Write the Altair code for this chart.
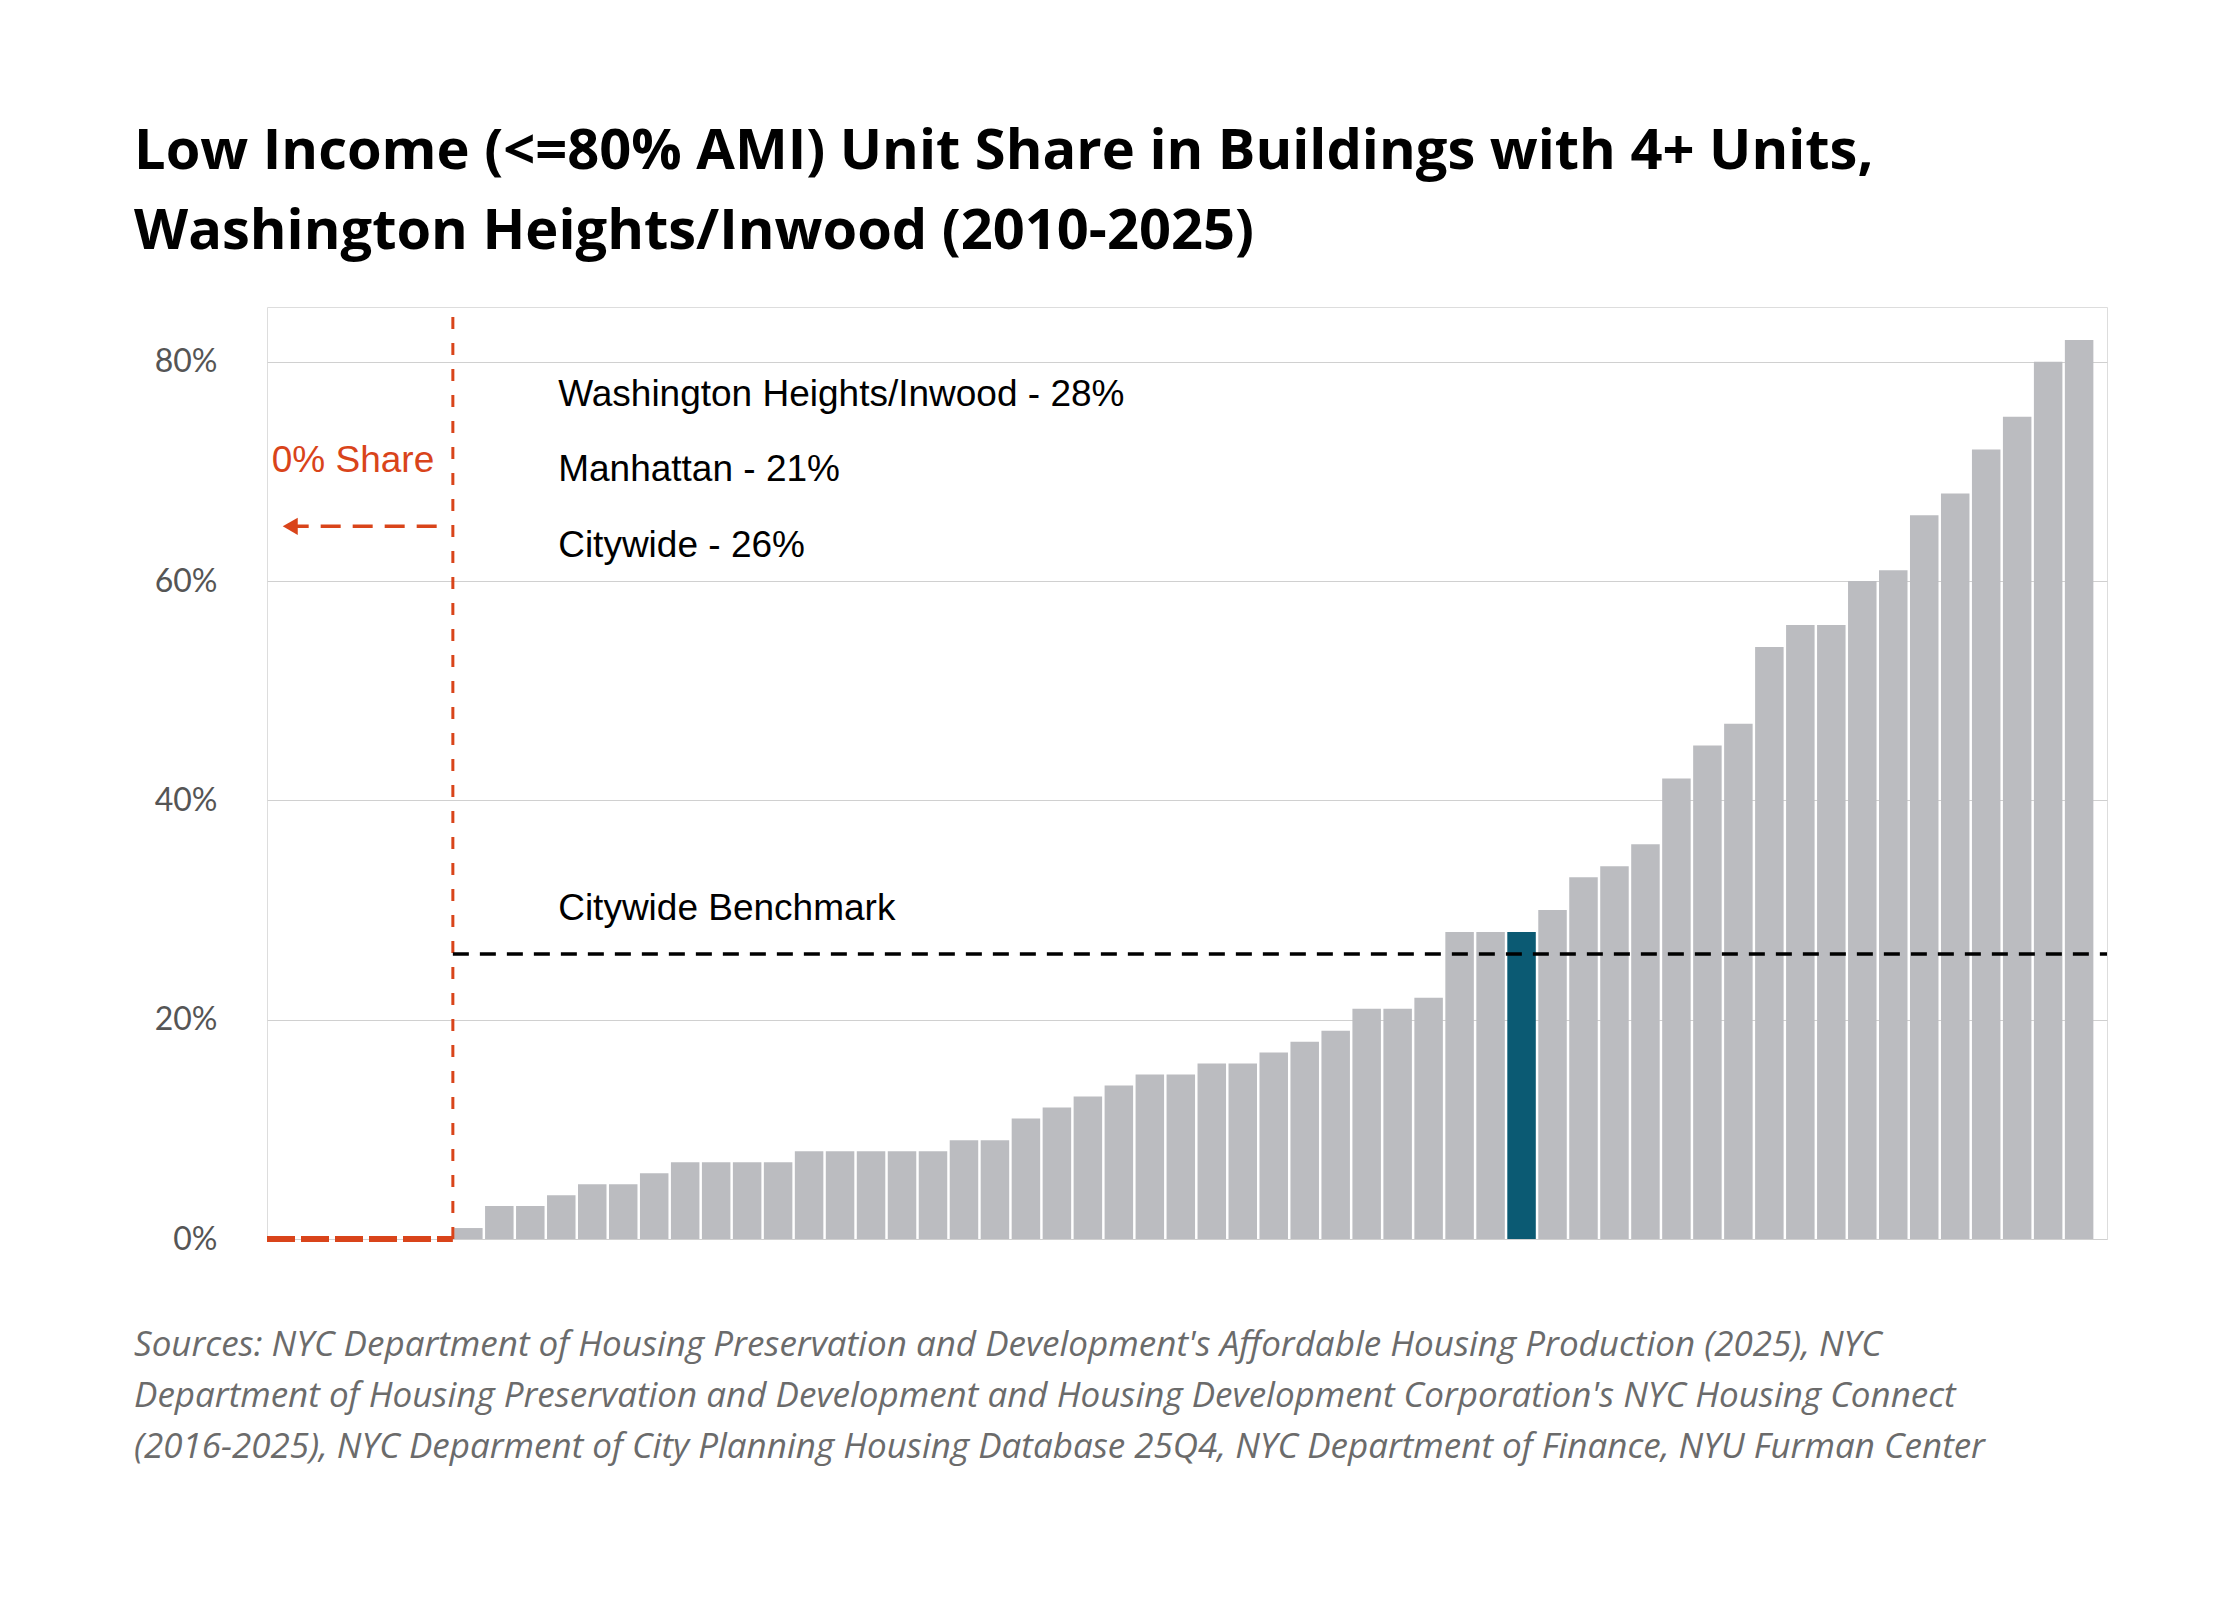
import altair as alt
import pandas as pd

# 59 community districts sorted by share; first six have 0% share
shares = [0, 0, 0, 0, 0, 0,
          1, 3, 3, 4, 5, 5, 6, 7, 7, 7, 7, 8, 8, 8, 8, 8, 9, 9, 11, 12,
          13, 14, 15, 15, 16, 16, 17, 18, 19, 21, 21, 22, 28, 28, 28, 30,
          33, 34, 36, 42, 45, 47, 54, 56, 56, 60, 61, 66, 68, 72, 75, 80, 82]
highlight_index = 40
benchmark = 26
notes = ["Washington Heights/Inwood - 28%", "Manhattan - 21%", "Citywide - 26%"]
note_y = [77, 70.1, 63.2]
source_lines = [
    "Sources: NYC Department of Housing Preservation and Development's Affordable Housing Production (2025), NYC",
    "Department of Housing Preservation and Development and Housing Development Corporation's NYC Housing Connect",
    " (2016-2025), NYC Deparment of City Planning Housing Database 25Q4, NYC Department of Finance, NYU Furman Center",
]

W, H = 1840, 932
GREY, TEAL, RED = "#bbbcc0", "#0b5a73", "#d9441a"
XS = alt.Scale(domain=[0, 59.4], nice=False)
YS = alt.Scale(domain=[0, 85], nice=False)

df = pd.DataFrame({"i": range(len(shares)), "share": shares})
df["x0"] = df["i"] + 0.04
df["x1"] = df["i"] + 0.96
df["base"] = 0
df["hl"] = df["i"] == highlight_index
bars_df = df[df["share"] > 0]

base = alt.Chart(bars_df)
bars = base.mark_bar().encode(
    x=alt.X("x0:Q", scale=XS, axis=None),
    x2="x1:Q",
    y=alt.Y("share:Q", scale=YS, title=None,
            axis=alt.Axis(values=[0, 20, 40, 60, 80], labelExpr="datum.value + '%'",
                          domain=False, ticks=False, gridColor="#d0d0d0",
                          labelFontSize=32, labelColor="#555", labelFont="Lato",
                          labelPadding=50)),
    y2="base:Q",
    color=alt.Color("hl:N", scale=alt.Scale(domain=[False, True], range=[GREY, TEAL]), legend=None),
)

zero_line = alt.Chart(pd.DataFrame({"a": [0], "b": [6], "y": [0]})).mark_rule(
    color=RED, strokeWidth=6, strokeDash=[28, 6]).encode(
    x=alt.X("a:Q", scale=XS), x2="b:Q", y=alt.Y("y:Q", scale=YS))

vline = alt.Chart(pd.DataFrame({"x": [6], "y0": [0], "y1": [85]})).mark_rule(
    color=RED, strokeWidth=3, strokeDash=[12, 14]).encode(
    x=alt.X("x:Q", scale=XS), y=alt.Y("y0:Q", scale=YS), y2="y1:Q")

bench = alt.Chart(pd.DataFrame({"a": [6], "b": [59.4], "y": [benchmark]})).mark_rule(
    color="black", strokeWidth=3.5, strokeDash=[16, 11]).encode(
    x=alt.X("a:Q", scale=XS), x2="b:Q", y=alt.Y("y:Q", scale=YS))

arrow = alt.Chart(pd.DataFrame({"a": [0.7], "b": [5.6], "y": [65]})).mark_rule(
    color=RED, strokeWidth=3.5, strokeDash=[20, 12]).encode(
    x=alt.X("a:Q", scale=XS), x2="b:Q", y=alt.Y("y:Q", scale=YS))

head = alt.Chart(pd.DataFrame({"x": [0.75], "y": [65]})).mark_point(
    shape="triangle-left", filled=True, color=RED, size=300, opacity=1).encode(
    x=alt.X("x:Q", scale=XS), y=alt.Y("y:Q", scale=YS))

share_txt = alt.Chart(pd.DataFrame({"x": [5.4], "y": [71], "t": ["0% Share"]})).mark_text(
    align="right", baseline="middle", color=RED, fontSize=37, font="Liberation Sans").encode(
    x=alt.X("x:Q", scale=XS), y=alt.Y("y:Q", scale=YS), text="t:N")

notes_df = pd.DataFrame({"x": [9.4] * 4, "y": note_y + [30.1], "t": notes + ["Citywide Benchmark"]})
notes_txt = alt.Chart(notes_df).mark_text(
    align="left", baseline="middle", color="black", fontSize=37, font="Liberation Sans").encode(
    x=alt.X("x:Q", scale=XS), y=alt.Y("y:Q", scale=YS), text="t:N")

source = alt.Chart(pd.DataFrame({"t": ["\n".join(source_lines)]})).mark_text(
    align="left", baseline="middle", color="#6b6b6b", fontSize=35, font="Open Sans",
    fontStyle="italic", lineBreak="\n", lineHeight=51).encode(
    x=alt.value(-133), y=alt.value(H + 106), text="t:N")

chart = alt.layer(bars, zero_line, vline, bench, arrow, head, share_txt, notes_txt, source).properties(
    width=W, height=H,
    padding={"left": 126, "top": 115, "right": 40, "bottom": 200},
    title=alt.TitleParams(
        ["Low Income (<=80% AMI) Unit Share in Buildings with 4+ Units,",
         "Washington Heights/Inwood (2010-2025)"],
        anchor="start", frame="bounds", font="Open Sans", fontSize=56, fontWeight="bold",
        color="black", lineHeight=80, offset=45),
).configure_view(strokeWidth=0).configure(background="white")

chart.save("out.html", embed_options={"renderer": "svg", "actions": False})
